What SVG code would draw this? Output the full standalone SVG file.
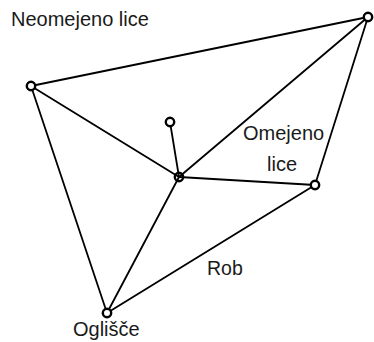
<svg xmlns="http://www.w3.org/2000/svg" width="374" height="342" viewBox="0 0 374 342">
<style>
.e{stroke:#000;stroke-width:1.8;fill:none;stroke-linecap:round}
.v{stroke:#000;stroke-width:2.4;fill:#fff}
.t{font-family:"Liberation Sans",Arial,sans-serif;fill:#1a1a1a}
</style>
<rect width="374" height="342" fill="#fff"/>
<g id="connectors">
<line class="e" x1="31" y1="86" x2="368" y2="17"/>
<line class="e" x1="31" y1="86" x2="179" y2="177"/>
<line class="e" x1="31" y1="86" x2="107" y2="313"/>
<line class="e" x1="368" y1="17" x2="179" y2="177"/>
<line class="e" x1="368" y1="17" x2="315" y2="185"/>
<line class="e" x1="170" y1="122" x2="179" y2="177"/>
<line class="e" x1="179" y1="177" x2="315" y2="185"/>
<line class="e" x1="179" y1="177" x2="107" y2="313"/>
<line class="e" x1="107" y1="313" x2="315" y2="185"/>
</g>
<g id="vA"><circle class="v" cx="31" cy="86" r="4.2"/></g>
<g id="vB"><circle class="v" cx="368" cy="17" r="4.2"/></g>
<g id="vC"><circle class="v" cx="170" cy="122" r="4.2"/></g>
<g id="vD"><circle class="v" cx="179" cy="177" r="4.2" style="fill:none"/></g>
<g id="vE"><circle class="v" cx="315" cy="185" r="4.2"/></g>
<g id="vF"><circle class="v" cx="107" cy="313" r="4.2"/></g>
<g id="labels">
<text class="t" x="11" y="26" font-size="20">Neomejeno lice</text>
<text class="t" x="243" y="140" font-size="20">Omejeno</text>
<text class="t" x="267" y="171" font-size="20">lice</text>
<text class="t" x="207" y="275" font-size="19.5">Rob</text>
<text class="t" x="73" y="336" font-size="20">Oglišče</text>
</g>
</svg>
